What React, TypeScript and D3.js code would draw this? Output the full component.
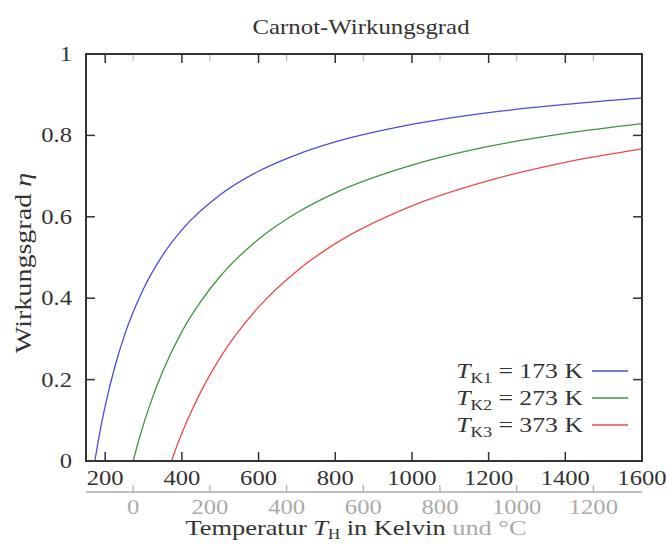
import React from 'react';
import * as d3 from 'd3';

// Werte (T_H in K, Wirkungsgrad eta)
const tempK1 = [173, 190, 200, 225, 250, 300, 350, 400, 500, 600, 700, 800, 1000, 1200, 1400, 1600];
const etaK1 = [0, 0.09, 0.135, 0.231, 0.308, 0.423, 0.506, 0.568, 0.654, 0.712, 0.753, 0.784, 0.827, 0.856, 0.876, 0.892];
const tempK2 = [273, 290, 300, 325, 350, 400, 450, 500, 600, 700, 800, 1000, 1200, 1400, 1600];
const etaK2 = [0, 0.059, 0.09, 0.16, 0.22, 0.318, 0.393, 0.454, 0.545, 0.61, 0.659, 0.727, 0.773, 0.805, 0.829];
const tempK3 = [373, 390, 400, 425, 450, 500, 600, 700, 800, 1000, 1200, 1400, 1600];
const etaK3 = [0, 0.044, 0.068, 0.122, 0.171, 0.254, 0.378, 0.467, 0.534, 0.627, 0.689, 0.734, 0.767];

const seriesNames = ['K1', 'K2', 'K3'];
const seriesLabels = ['173', '273', '373'];
const seriesColors = ['#4b4be0', '#3f943f', '#ef4a4a'];

const kelvinTicks = [200, 400, 600, 800, 1000, 1200, 1400, 1600];
const celsiusTicks = [0, 200, 400, 600, 800, 1000, 1200];
const etaTicks = [0, 0.2, 0.4, 0.6, 0.8, 1];

const W = 666;
const H = 544;
const FONT = '"Liberation Serif", "Times New Roman", serif';

// Text, der horizontal etwas breiter gezogen wird (wie im Original)
const Txt = ({ x, y, sx = 1.12, rot = 0, anchor = 'middle', size = 22, fill = '#333', children }: any) => (
  <text
    transform={`translate(${x},${y}) rotate(${rot}) scale(${sx},1)`}
    textAnchor={anchor}
    fontSize={size}
    fill={fill}
  >
    {children}
  </text>
);

const App = () => {
  const x = d3.scaleLinear().domain([150, 1600]).range([86, 642]);
  const y = d3.scaleLinear().domain([0, 1]).range([461, 54]);
  const line = d3.line<[number, number]>()
    .x(d => x(d[0]))
    .y(d => y(d[1]))
    .curve(d3.curveMonotoneX);

  const series = [
    tempK1.map((t, i) => [t, etaK1[i]] as [number, number]),
    tempK2.map((t, i) => [t, etaK2[i]] as [number, number]),
    tempK3.map((t, i) => [t, etaK3[i]] as [number, number]),
  ];

  const axisCol = '#333';
  const grey = '#aaa';
  const tickLen = 9;
  const cAxisY = 492;
  const [x0, x1] = x.range();

  return (
    <svg width={W} height={H} style={{ position: 'absolute', left: 0, top: 0 }} fontFamily={FONT}>
      <rect width={W} height={H} fill="#fff" />
      <Txt x={361} y={34} sx={1.13}>Carnot-Wirkungsgrad</Txt>

      {/* curves */}
      {series.map((s, i) => (
        <path key={i} d={line(s) || ''} fill="none" stroke={seriesColors[i]} strokeWidth={1.3} />
      ))}

      {/* ticks */}
      {kelvinTicks.map(t => (
        <g key={'k' + t}>
          <line x1={x(t)} x2={x(t)} y1={y(0)} y2={y(0) - tickLen} stroke={axisCol} strokeWidth={1.5} />
          <line x1={x(t)} x2={x(t)} y1={y(1)} y2={y(1) + tickLen} stroke={axisCol} strokeWidth={1.5} />
          <Txt x={x(t)} y={485}>{t}</Txt>
        </g>
      ))}
      {celsiusTicks.map(c => (
        <g key={'c' + c}>
          <line x1={x(c + 273.15)} x2={x(c + 273.15)} y1={y(1)} y2={y(1) + 7} stroke="#bbb" strokeWidth={1.2} />
          <line x1={x(c + 273.15)} x2={x(c + 273.15)} y1={cAxisY} y2={cAxisY - 7} stroke={grey} strokeWidth={1.2} />
          <Txt x={x(c + 273.15)} y={514} fill={grey}>{c}</Txt>
        </g>
      ))}
      <line x1={x0} x2={x1} y1={cAxisY} y2={cAxisY} stroke={grey} strokeWidth={1.5} />
      {etaTicks.map(v => (
        <g key={'e' + v}>
          <line x1={x0} x2={x0 + tickLen} y1={y(v)} y2={y(v)} stroke={axisCol} strokeWidth={1.5} />
          <line x1={x1} x2={x1 - tickLen} y1={y(v)} y2={y(v)} stroke={axisCol} strokeWidth={1.5} />
          <Txt x={72} y={y(v) + 7} anchor="end">{v}</Txt>
        </g>
      ))}

      {/* frame */}
      <rect x={x0} y={y(1)} width={x1 - x0} height={y(0) - y(1)} fill="none" stroke={axisCol} strokeWidth={2} />

      {/* legend */}
      {seriesNames.map((n, i) => {
        const ly = 371 + i * 27;
        return (
          <g key={n}>
            <Txt x={583} y={ly + 7} anchor="end" sx={1.17}>
              <tspan fontStyle="italic">T</tspan>
              <tspan fontSize={15} dy={5}>{n}</tspan>
              <tspan dy={-5}>{' = ' + seriesLabels[i] + ' K'}</tspan>
            </Txt>
            <line x1={592} x2={628} y1={ly} y2={ly} stroke={seriesColors[i]} strokeWidth={1.5} />
          </g>
        );
      })}

      {/* axis titles */}
      <Txt x={31} y={263} rot={-90} size={23} sx={1.22}>
        Wirkungsgrad <tspan fontStyle="italic">η</tspan>
      </Txt>
      <Txt x={356} y={535} size={22} sx={1.2}>
        Temperatur <tspan fontStyle="italic">T</tspan>
        <tspan fontSize={14} dy={4}>H</tspan>
        <tspan dy={-4}> in Kelvin </tspan>
        <tspan fill={grey}>und °C</tspan>
      </Txt>
    </svg>
  );
};

export default App;
